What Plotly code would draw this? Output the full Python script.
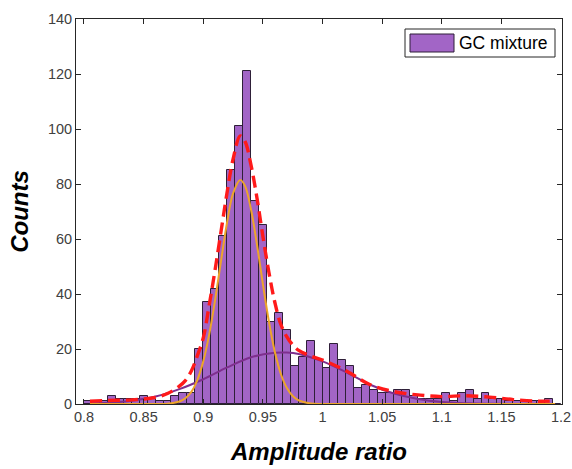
import plotly.graph_objects as go

# ---------------- data ----------------
bin_start = 0.8
bin_end = 1.2
counts = [1, 1, 1, 3, 2, 2, 2, 3, 2, 1,
          1, 3, 4, 4, 20, 37, 42, 61, 85, 101,
          121, 74, 65, 30, 33, 27, 14, 17, 23, 16,
          13, 22, 16, 14, 6, 7, 5, 4, 4, 5,
          5, 3, 2, 2, 2, 4, 1, 4, 5, 2,
          4, 2, 2, 1, 1, 1, 1, 1, 2, 0]

# fitted component 1 (orange)
comp1_x = [0.805, 0.85, 0.87, 0.88, 0.885, 0.89, 0.895, 0.90, 0.905, 0.91, 0.915, 0.92,
           0.925, 0.931, 0.935, 0.94, 0.945, 0.95, 0.955, 0.96, 0.965, 0.97, 0.975,
           0.98, 0.99, 1.0, 1.05, 1.195]
comp1_y = [0.0, 0.0, 0.13, 0.9, 2.1, 4.4, 8.7, 15.5, 25.3, 38.0, 52.3, 66.1,
           76.6, 81.5, 79.3, 70.8, 58.1, 43.6, 30.1, 19.0, 11.0, 5.9, 2.9,
           1.3, 0.2, 0.0, 0.0, 0.0]

# fitted component 2 (purple)
comp2_x = [0.805, 0.82, 0.84, 0.86, 0.88, 0.90, 0.92, 0.94, 0.96, 0.97, 0.98,
           1.00, 1.02, 1.04, 1.06, 1.08, 1.10, 1.12, 1.14, 1.16, 1.195]
comp2_y = [0.2, 0.45, 1.15, 2.7, 5.4, 9.0, 13.3, 17.0, 18.6, 18.7, 18.2,
           15.5, 11.5, 7.0, 3.8, 1.8, 0.7, 0.25, 0.08, 0.02, 0.0]

# overall fit (red dashed)
fit_x = [0.805, 0.82, 0.84, 0.86, 0.87, 0.88, 0.885, 0.89, 0.895, 0.90, 0.905, 0.91,
         0.915, 0.92, 0.925, 0.931, 0.935, 0.94, 0.945, 0.95, 0.955, 0.96, 0.965,
         0.97, 0.975, 0.98, 0.99, 1.00, 1.02, 1.04, 1.06, 1.08, 1.10, 1.12, 1.14,
         1.16, 1.18, 1.195]
fit_y = [1.0, 1.3, 1.5, 2.4, 3.8, 6.5, 8.5, 12.0, 17.5, 24.0, 36.0, 49.0,
         63.0, 77.0, 89.0, 97.5, 95.5, 87.0, 75.0, 61.0, 48.0, 37.0, 29.0,
         24.5, 21.5, 19.5, 17.5, 16.0, 12.0, 7.0, 4.5, 3.3, 2.7, 3.0, 2.5,
         1.6, 1.0, 1.1]

x_ticks = [0.8, 0.85, 0.9, 0.95, 1.0, 1.05, 1.1, 1.15, 1.2]
x_tick_labels = ["0.8", "0.85", "0.9", "0.95", "1", "1.05", "1.1", "1.15", "1.2"]
y_ticks = [0, 20, 40, 60, 80, 100, 120, 140]
legend_label = "GC mixture"

# ---------------- figure ----------------
nbins = len(counts)
bw = (bin_end - bin_start) / nbins
centers = [bin_start + (i + 0.5) * bw for i in range(nbins)]

BAR_COLOR = "#A265C6"
EDGE_COLOR = "#2E1F38"
AX_COLOR = "#262626"
FONT = "Liberation Sans, Arial"

fig = go.Figure()
fig.add_trace(go.Bar(x=centers, y=counts, width=bw,
                     marker=dict(color=BAR_COLOR, line=dict(color=EDGE_COLOR, width=1)),
                     name=legend_label, showlegend=False))
fig.add_trace(go.Scatter(x=comp2_x, y=comp2_y, mode="lines",
                         line=dict(color="#7E2F8E", width=2, shape="spline"),
                         showlegend=False))
fig.add_trace(go.Scatter(x=comp1_x, y=comp1_y, mode="lines",
                         line=dict(color="#EDA52A", width=2, shape="spline"),
                         showlegend=False))
fig.add_trace(go.Scatter(x=fit_x, y=fit_y, mode="lines",
                         line=dict(color="#FF1A1A", width=3.4, dash="12px,6px", shape="spline"),
                         showlegend=False))

W, H = 572, 469
L, R, T, B = 76, 10, 19, 65
pw = W - L - R
ph = H - T - B

def px2paper(px, py):
    return (px - L) / pw, (H - B - py) / ph

# manual legend (MATLAB-style)
x0, y0 = px2paper(405, 57)
x1, y1 = px2paper(555, 29)
fig.add_shape(type="rect", xref="paper", yref="paper", x0=x0, y0=y0, x1=x1, y1=y1,
              line=dict(color=AX_COLOR, width=1), fillcolor="white", layer="above")
px0, py0 = px2paper(410, 52)
px1, py1 = px2paper(454, 34)
fig.add_shape(type="rect", xref="paper", yref="paper", x0=px0, y0=py0, x1=px1, y1=py1,
              line=dict(color=EDGE_COLOR, width=1), fillcolor=BAR_COLOR, layer="above")
tx, ty = px2paper(457, 43)
fig.add_annotation(x=tx, y=ty, xref="paper", yref="paper", text=legend_label,
                   showarrow=False, xanchor="left", yanchor="middle",
                   font=dict(family=FONT, size=17.5, color="black"))

fig.update_layout(
    width=W, height=H,
    margin=dict(l=L, r=R, t=T, b=B, autoexpand=False),
    paper_bgcolor="white", plot_bgcolor="white",
    bargap=0, showlegend=False,
    font=dict(family=FONT, size=14.5, color="#404040"),
)
fig.update_xaxes(range=[0.7933, 1.2008], tickvals=x_ticks, ticktext=x_tick_labels,
                 ticks="inside", ticklen=5, tickcolor=AX_COLOR, showline=True,
                 linecolor=AX_COLOR, linewidth=1, mirror="allticks", showgrid=False,
                 zeroline=False, automargin=False,
                 title=dict(text="<b><i>Amplitude ratio</i></b>", standoff=18,
                            font=dict(family=FONT, size=24, color="black")))
fig.update_yaxes(range=[0, 140], tickvals=y_ticks, ticks="inside", ticklen=5,
                 tickcolor=AX_COLOR, showline=True, linecolor=AX_COLOR, linewidth=1,
                 mirror="allticks", showgrid=False, zeroline=False, automargin=False,
                 title=dict(text="<b><i>Counts</i></b>", standoff=12,
                            font=dict(family=FONT, size=24, color="black")))

fig.write_html("out.html",
               config={"displayModeBar": False},
               post_script="document.body.style.margin='0';document.body.style.overflow='hidden';")
